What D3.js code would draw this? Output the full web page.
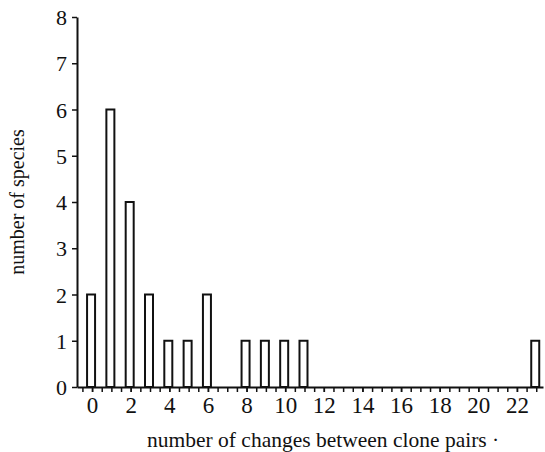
<!DOCTYPE html>
<html>
<head>
<meta charset="utf-8">
<script src="https://cdn.jsdelivr.net/npm/d3@7"></script>
<style>
  body { margin: 0; background: #fff; }
</style>
</head>
<body>
<div class="chart"></div>
<script>
// number of changes between clone pairs -> number of species
const changes = [0, 1, 2, 3, 4, 5, 6, 8, 9, 10, 11, 23];
const species = [2, 6, 4, 2, 1, 1, 2, 1, 1, 1, 1, 1];
const xTickLabels = [0, 2, 4, 6, 8, 10, 12, 14, 16, 18, 20, 22];
const yTickLabels = [0, 1, 2, 3, 4, 5, 6, 7, 8];

const width = 545, height = 452;
const serif = "'Liberation Serif', 'DejaVu Serif', serif";

const svg = d3.select('.chart')
  .append('svg')
  .attr('width', width)
  .attr('height', height);

var x = d3.scaleLinear()
  .domain([-0.78, 23.35])
  .range([77, 543]);

var y = d3.scaleLinear()
  .domain([0, 8])
  .range([387, 17]);

// y axis
svg.append('g')
  .attr('transform', 'translate(' + x(-0.78) + ',0)')
  .call(d3.axisLeft(y)
    .tickValues(yTickLabels)
    .tickFormat(d3.format('d'))
    .tickSize(5)
    .tickSizeOuter(0)
    .tickPadding(5))
  .call(g => g.select('.domain').attr('stroke', '#111').attr('stroke-width', 2))
  .call(g => g.selectAll('.tick line').attr('stroke', '#111').attr('stroke-width', 1.5))
  .call(g => g.selectAll('.tick text')
    .style('font-family', serif)
    .style('font-size', '22px')
    .attr('fill', '#111')
    .attr('dy', '0.35em'));

// minor ticks every half unit on x
const halfTicks = d3.range(-0.5, 23.01, 0.5);
svg.append('g')
  .attr('transform', 'translate(0,' + y(0) + ')')
  .call(d3.axisBottom(x)
    .tickValues(halfTicks)
    .tickFormat('')
    .tickSize(5)
    .tickSizeOuter(0))
  .call(g => g.select('.domain').attr('stroke', '#111').attr('stroke-width', 2))
  .call(g => g.selectAll('.tick line').attr('stroke', '#111').attr('stroke-width', 1.5));

// labelled ticks
svg.append('g')
  .attr('transform', 'translate(0,' + y(0) + ')')
  .call(d3.axisBottom(x)
    .tickValues(xTickLabels)
    .tickSize(5)
    .tickPadding(5))
  .call(g => g.select('.domain').remove())
  .call(g => g.selectAll('.tick line').attr('stroke', '#111').attr('stroke-width', 1.5))
  .call(g => g.selectAll('.tick text')
    .style('font-family', serif)
    .style('font-size', '23px')
    .attr('fill', '#111'));

// bars
const barW = 8;
svg.append('g')
  .selectAll('rect')
  .data(changes)
  .join('rect')
  .attr('x', (d) => x(d) - barW / 2 - 1)
  .attr('y', (d, i) => y(species[i]))
  .attr('width', barW)
  .attr('height', (d, i) => y(0) - y(species[i]))
  .attr('fill', '#fff')
  .attr('stroke', '#111')
  .attr('stroke-width', 2);

// axis titles
svg.append('text')
  .attr('transform', 'translate(24,202) rotate(-90)')
  .style('font-family', serif)
  .style('text-anchor', 'middle')
  .style('font-size', '20px')
  .attr('fill', '#111')
  .text('number of species');

svg.append('text')
  .attr('x', 147)
  .attr('y', 447)
  .style('font-family', serif)
  .style('text-anchor', 'start')
  .style('font-size', '21.5px')
  .attr('fill', '#111')
  .text('number of changes between clone pairs ·');
</script>
</body>
</html>
